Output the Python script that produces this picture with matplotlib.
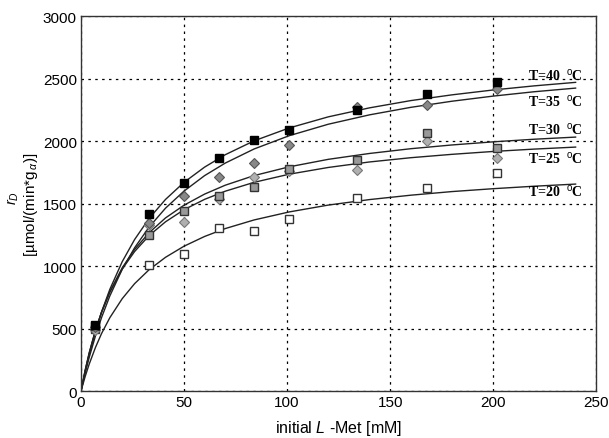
import matplotlib
matplotlib.use('Agg')
import matplotlib.pyplot as plt

plt.rcParams['font.family'] = ['Liberation Sans', 'DejaVu Sans']
plt.rcParams['mathtext.fontset'] = 'custom'
plt.rcParams['mathtext.it'] = 'Liberation Sans:italic'
plt.rcParams['mathtext.rm'] = 'Liberation Sans'

# measured points
x_pts = [7, 33, 50, 67, 84, 101, 134, 168, 202]
t40_pts = [530, 1420, 1665, 1865, 2010, 2085, 2245, 2380, 2475]
t35_pts = [510, 1345, 1560, 1715, 1825, 1965, 2275, 2285, 2420]
t30_pts = [520, 1250, 1440, 1560, 1635, 1775, 1850, 2065, 1945]
t25_pts = [490, 1330, 1355, 1535, 1710, 1760, 1770, 2000, 1865]
t20_pts = [500, 1010, 1100, 1305, 1280, 1375, 1545, 1625, 1745]

# fitted curves
x_fit = [0, 2, 4, 7, 10, 14, 20, 26, 33, 41, 50, 60, 70, 84, 101,
         120, 140, 160, 180, 200, 220, 240]
t40_fit = [0, 154, 293, 476, 634, 814, 1035, 1212, 1380, 1533, 1670, 1792,
           1891, 2002, 2105, 2194, 2266, 2324, 2370, 2409, 2442, 2470]
t35_fit = [0, 142, 270, 440, 589, 761, 974, 1146, 1311, 1463, 1600, 1724,
           1824, 1937, 2043, 2135, 2210, 2270, 2319, 2360, 2395, 2424]
t30_fit = [0, 163, 304, 483, 632, 795, 986, 1133, 1266, 1385, 1487, 1576,
           1647, 1724, 1794, 1854, 1901, 1939, 1969, 1994, 2015, 2032]
t25_fit = [0, 165, 307, 485, 631, 791, 976, 1116, 1243, 1354, 1451, 1534,
           1599, 1670, 1735, 1789, 1833, 1867, 1894, 1917, 1936, 1952]
t20_fit = [0, 115, 216, 348, 461, 587, 739, 859, 970, 1070, 1159, 1237,
           1300, 1369, 1433, 1488, 1532, 1567, 1596, 1619, 1639, 1656]

labels = ['T=40', 'T=35', 'T=30', 'T=25', 'T=20']
label_y = [2536, 2320, 2096, 1864, 1600]

fig = plt.figure(figsize=(6.09, 4.39), dpi=100)
ax = fig.add_axes([0.133, 0.107, 0.846, 0.854])

for yf in [t40_fit, t35_fit, t30_fit, t25_fit, t20_fit]:
    ax.plot(x_fit, yf, color='#222222', lw=1.0, zorder=2)

ax.plot(x_pts, t20_pts, 's', ms=6, mfc='white', mec='#333333', mew=1.0, zorder=3)
ax.plot(x_pts, t25_pts, 'D', ms=5.5, mfc='#b0b0b0', mec='#777777', mew=0.8, zorder=3)
ax.plot(x_pts, t30_pts, 's', ms=6, mfc='#999999', mec='#333333', mew=1.0, zorder=3)
ax.plot(x_pts, t35_pts, 'D', ms=5.5, mfc='#888888', mec='#555555', mew=0.8, zorder=3)
ax.plot(x_pts, t40_pts, 's', ms=6, mfc='black', mec='black', mew=1.0, zorder=4)

for lab, ly in zip(labels, label_y):
    ax.text(217, ly, lab + r'  $^{\mathrm{o}}$C', family=['Liberation Serif', 'DejaVu Serif'],
            fontweight='bold', fontsize=10, va='center', ha='left', zorder=5)

ax.set_xlim(0, 250)
ax.set_ylim(0, 3000)
ax.set_xticks([0, 50, 100, 150, 200, 250])
ax.set_yticks([0, 500, 1000, 1500, 2000, 2500, 3000])
ax.grid(True, color='black', linestyle=(0, (2, 3.5)), lw=0.9)
ax.tick_params(labelsize=11, length=0, pad=3)
for s in ax.spines.values():
    s.set_color('#333333')
    s.set_linewidth(1.0)

ax.set_xlabel('initial $L$ -Met [mM]', fontsize=11.5, labelpad=6)
fig.text(0.022, 0.55, '$r_D$', rotation=90, fontsize=10.5, ha='center', va='center')
fig.text(0.051, 0.533, r'[µmol/(min*g$_{\,\alpha}$)]', rotation=90, fontsize=11,
         ha='center', va='center')

fig.savefig('out.png', dpi=100)
